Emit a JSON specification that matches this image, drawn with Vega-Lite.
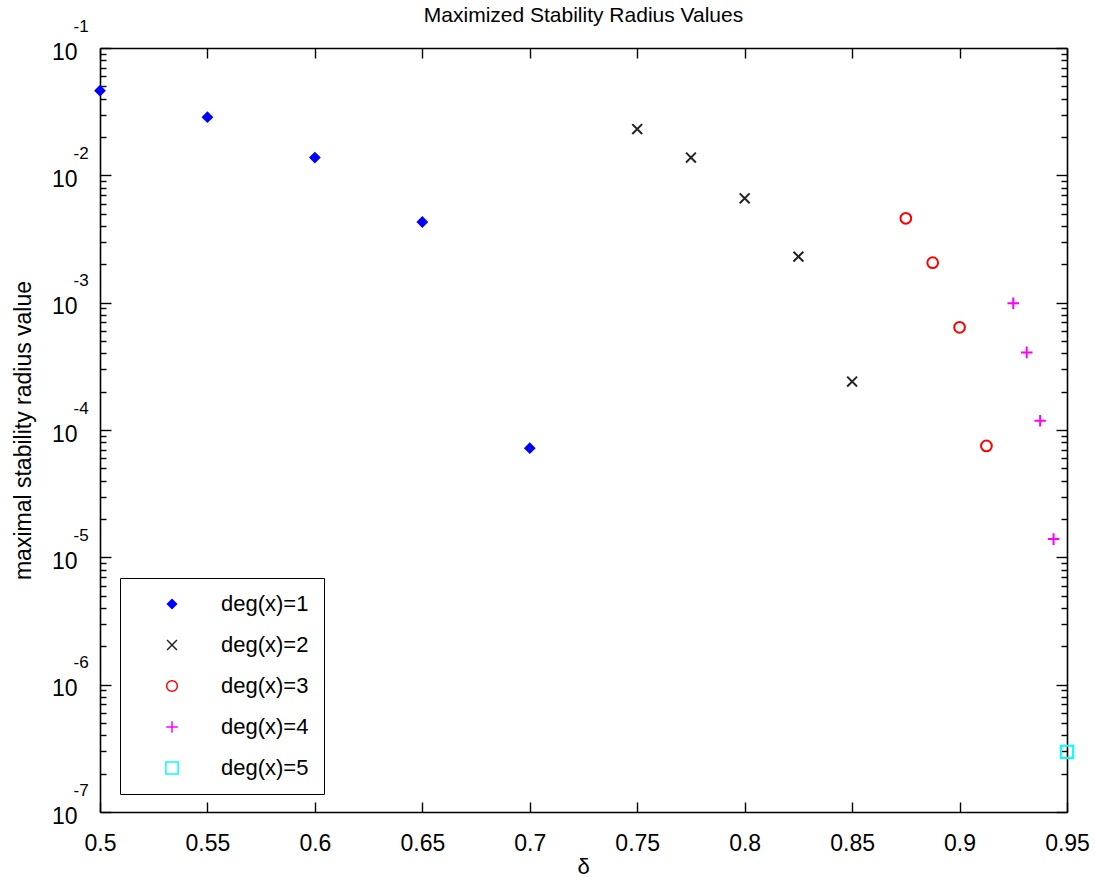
{
  "$schema": "https://vega.github.io/schema/vega-lite/v6.json",
  "autosize": {"type": "none"},
  "padding": {"left": 100, "top": 48, "right": 28, "bottom": 65},
  "width": 967,
  "height": 764,
  "background": "white",
  "config": {
    "font": "Liberation Sans",
    "view": {"stroke": null},
    "axis": {"grid": false, "domainColor": "black", "tickColor": "black", "domainWidth": 1.6, "tickWidth": 1.4, "labelColor": "black", "titleColor": "black"}
  },
  "title": {"text": "Maximized Stability Radius Values", "fontSize": 21, "fontWeight": "normal", "anchor": "middle", "baseline": "bottom", "offset": -30, "color": "black", "font": "Liberation Sans"},
  "data": {"values": [
    {"delta": 0.5, "r": 0.0462, "series": "deg(x)=1"},
    {"delta": 0.55, "r": 0.0286, "series": "deg(x)=1"},
    {"delta": 0.6, "r": 0.0138, "series": "deg(x)=1"},
    {"delta": 0.65, "r": 0.0043, "series": "deg(x)=1"},
    {"delta": 0.7, "r": 0.000072, "series": "deg(x)=1"},
    {"delta": 0.75, "r": 0.0231, "series": "deg(x)=2"},
    {"delta": 0.775, "r": 0.0138, "series": "deg(x)=2"},
    {"delta": 0.8, "r": 0.0066, "series": "deg(x)=2"},
    {"delta": 0.825, "r": 0.0023, "series": "deg(x)=2"},
    {"delta": 0.85, "r": 0.00024, "series": "deg(x)=2"},
    {"delta": 0.875, "r": 0.0046, "series": "deg(x)=3"},
    {"delta": 0.8875, "r": 0.00206, "series": "deg(x)=3"},
    {"delta": 0.9, "r": 0.00064, "series": "deg(x)=3"},
    {"delta": 0.9125, "r": 0.000075, "series": "deg(x)=3"},
    {"delta": 0.925, "r": 0.00099, "series": "deg(x)=4"},
    {"delta": 0.93125, "r": 0.000407, "series": "deg(x)=4"},
    {"delta": 0.9375, "r": 0.000118, "series": "deg(x)=4"},
    {"delta": 0.94375, "r": 0.0000139, "series": "deg(x)=4"},
    {"delta": 0.95, "r": 0.000000297, "series": "deg(x)=5"}
  ]},
  "resolve": {"axis": {"x": "independent", "y": "independent"}},
  "layer": [
    {
      "mark": {"type": "point", "filled": false, "strokeWidth": 2, "opacity": 1},
      "encoding": {
        "x": {"field": "delta", "type": "quantitative",
          "scale": {"domain": [0.5, 0.95], "nice": false, "zero": false},
          "axis": {"orient": "bottom", "values": [0.5, 0.55, 0.6, 0.65, 0.7, 0.75, 0.8, 0.85, 0.9, 0.95],
            "labelExpr": "'' + datum.value", "tickSize": -10, "labelPadding": 30, "labelFontSize": 23, "labelBaseline": "top", "labelFlush": false,
            "title": "δ", "titleFontSize": 22, "titleFontWeight": "normal", "titleX": 483, "titleY": 54, "titleBaseline": "middle"}},
        "y": {"field": "r", "type": "quantitative",
          "scale": {"type": "log", "domain": [1e-7, 0.1], "nice": false},
          "axis": {"orient": "left",
            "values": [1e-7,2e-7,3e-7,4e-7,5e-7,6e-7,7e-7,8e-7,9e-7,1e-6,2e-6,3e-6,4e-6,5e-6,6e-6,7e-6,8e-6,9e-6,1e-5,2e-5,3e-5,4e-5,5e-5,6e-5,7e-5,8e-5,9e-5,1e-4,2e-4,3e-4,4e-4,5e-4,6e-4,7e-4,8e-4,9e-4,1e-3,2e-3,3e-3,4e-3,5e-3,6e-3,7e-3,8e-3,9e-3,1e-2,2e-2,3e-2,4e-2,5e-2,6e-2,7e-2,8e-2,9e-2,1e-1],
            "labelExpr": "abs(log(datum.value)/LN10 - round(log(datum.value)/LN10)) < 0.001 ? '10' : ''",
            "tickSize": {"condition": {"test": "abs(log(datum.value)/LN10 - round(log(datum.value)/LN10)) < 0.001", "value": -11}, "value": -6},
            "labelPadding": 34, "labelAlign": "right", "labelBaseline": "middle", "labelOffset": 4, "labelFontSize": 23, "labelFlush": false, "labelOverlap": false,
            "title": "maximal stability radius value", "titleFontSize": 23, "titleFontWeight": "normal", "titleX": -77, "titleY": 382, "titleAngle": -90, "titleAlign": "center", "titleBaseline": "middle"}},
        "shape": {"field": "series", "type": "nominal",
          "scale": {"domain": ["deg(x)=1", "deg(x)=2", "deg(x)=3", "deg(x)=4", "deg(x)=5"],
            "range": ["diamond", "M-1,-1L1,1M-1,1L1,-1", "circle", "M-1,0L1,0M0,-1L0,1", "square"]},
          "legend": {"title": null, "orient": "none", "legendX": 20, "legendY": 530, "strokeColor": "black", "fillColor": "white", "padding": 15, "symbolOffset": 26, "labelOffset": 38, "rowPadding": 19, "labelFontSize": 22, "labelColor": "black", "labelFont": "Liberation Sans",
            "encode": {"legend": {"update": {"strokeWidth": {"value": 2}}}}}},
        "stroke": {"field": "series", "type": "nominal",
          "scale": {"domain": ["deg(x)=1", "deg(x)=2", "deg(x)=3", "deg(x)=4", "deg(x)=5"],
            "range": ["#0000ff", "#222222", "#ff0000", "#ff00ff", "#00ffff"]},
          "legend": {"title": null, "orient": "none", "legendX": 20, "legendY": 530}},
        "fill": {"field": "series", "type": "nominal",
          "scale": {"domain": ["deg(x)=1", "deg(x)=2", "deg(x)=3", "deg(x)=4", "deg(x)=5"],
            "range": ["#0000ff", "transparent", "transparent", "transparent", "transparent"]},
          "legend": {"title": null, "orient": "none", "legendX": 20, "legendY": 530}},
        "size": {"field": "series", "type": "nominal",
          "scale": {"domain": ["deg(x)=1", "deg(x)=2", "deg(x)=3", "deg(x)=4", "deg(x)=5"],
            "range": [80, 150, 200, 270, 180]},
          "legend": {"title": null, "orient": "none", "legendX": 20, "legendY": 530}}
      }
    },
    {
      "mark": {"type": "point", "opacity": 0},
      "encoding": {
        "x": {"field": "delta", "type": "quantitative",
          "axis": {"orient": "top", "values": [0.5, 0.55, 0.6, 0.65, 0.7, 0.75, 0.8, 0.85, 0.9, 0.95], "labels": false, "tickSize": -10, "title": null}},
        "y": {"field": "r", "type": "quantitative",
          "axis": {"orient": "left", "values": [1e-7,1e-6,1e-5,1e-4,1e-3,1e-2,1e-1],
            "labelExpr": "'-' + abs(round(log(datum.value)/LN10))", "ticks": false, "domain": false,
            "labelPadding": 27, "labelAlign": "left", "labelBaseline": "middle", "labelOffset": -22, "labelFontSize": 17, "labelFlush": false, "labelOverlap": false, "title": null}}
      }
    },
    {
      "mark": {"type": "point", "opacity": 0},
      "encoding": {
        "x": {"field": "delta", "type": "quantitative", "axis": null},
        "y": {"field": "r", "type": "quantitative",
          "axis": {"orient": "right",
            "values": [1e-7,2e-7,3e-7,4e-7,5e-7,6e-7,7e-7,8e-7,9e-7,1e-6,2e-6,3e-6,4e-6,5e-6,6e-6,7e-6,8e-6,9e-6,1e-5,2e-5,3e-5,4e-5,5e-5,6e-5,7e-5,8e-5,9e-5,1e-4,2e-4,3e-4,4e-4,5e-4,6e-4,7e-4,8e-4,9e-4,1e-3,2e-3,3e-3,4e-3,5e-3,6e-3,7e-3,8e-3,9e-3,1e-2,2e-2,3e-2,4e-2,5e-2,6e-2,7e-2,8e-2,9e-2,1e-1],
            "labels": false,
            "tickSize": {"condition": {"test": "abs(log(datum.value)/LN10 - round(log(datum.value)/LN10)) < 0.001", "value": -11}, "value": -6},
            "title": null}}
      }
    }
  ]
}
